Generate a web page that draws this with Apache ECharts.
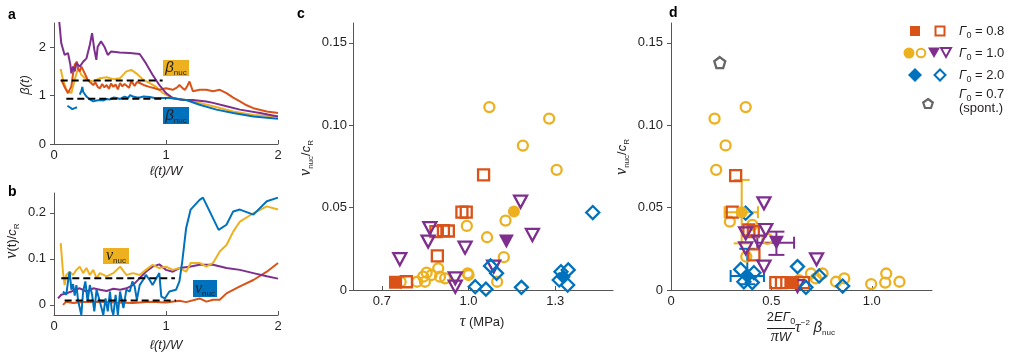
<!DOCTYPE html>
<html><head><meta charset="utf-8">
<script src="https://cdn.jsdelivr.net/npm/echarts@6/dist/echarts.min.js"></script>
<style>html,body{margin:0;padding:0;background:#fff}#c{width:1036px;height:361px}</style>
</head><body><div id="c"></div><script>
// ---------- DATA ----------
// panel a: beta(t) vs l(t)/W
const aYellow = [[0.06,1.55],[0.08,1.33],[0.11,1.12],[0.155,1.05],[0.185,1.33],[0.215,1.57],[0.244,1.43],[0.29,1.33],[0.35,1.29],[0.41,1.36],[0.47,1.38],[0.53,1.34],[0.59,1.36],[0.646,1.5],[0.69,1.53],[0.735,1.46],[0.795,1.33],[0.854,1.26],[0.914,1.18],[0.973,1.05],[1.06,0.95],[1.18,0.91],[1.3,0.85],[1.42,0.78],[1.6,0.67],[1.78,0.6],[2.0,0.57]];
const aOrange = [[0.065,1.33],[0.09,1.2],[0.125,1.05],[0.155,1.19],[0.17,1.45],[0.185,1.64],[0.205,1.70],[0.215,1.55],[0.23,1.5],[0.245,1.6],[0.26,1.57],[0.28,1.43],[0.3,1.33],[0.32,1.28],[0.35,1.22],[0.37,1.27],[0.39,1.18],[0.41,1.15],[0.43,1.24],[0.45,1.17],[0.47,1.22],[0.49,1.14],[0.51,1.25],[0.53,1.18],[0.55,1.23],[0.57,1.13],[0.59,1.26],[0.61,1.19],[0.63,1.24],[0.646,1.22],[0.67,1.16],[0.69,1.30],[0.705,1.29],[0.72,1.2],[0.74,1.28],[0.765,1.26],[0.8,1.22],[0.85,1.18],[0.9,1.15],[0.94,1.12],[1.0,1.15],[1.06,1.12],[1.1,1.17],[1.12,1.22],[1.15,1.15],[1.17,1.12],[1.19,1.2],[1.21,1.29],[1.24,1.09],[1.3,1.12],[1.36,1.12],[1.42,1.09],[1.48,1.12],[1.54,1.05],[1.6,0.96],[1.66,0.88],[1.72,0.8],[1.78,0.74],[1.9,0.67],[2.0,0.64]];
const aPurple = [[0.04,2.7],[0.065,2.08],[0.095,1.84],[0.125,1.88],[0.146,1.64],[0.155,1.46],[0.17,1.6],[0.185,1.5],[0.2,1.67],[0.23,1.6],[0.26,1.7],[0.29,1.77],[0.32,2.05],[0.34,2.29],[0.36,1.95],[0.378,1.74],[0.39,2.01],[0.42,2.12],[0.45,2.01],[0.48,1.84],[0.51,1.91],[0.586,1.89],[0.676,1.88],[0.765,1.86],[0.82,1.67],[0.88,1.43],[0.94,1.22],[1.0,1.05],[1.06,0.95],[1.15,0.91],[1.24,0.91],[1.36,0.88],[1.42,0.85],[1.54,0.78],[1.66,0.71],[1.84,0.64],[2.0,0.57]];
const aBlue = [[0.12,0.79],[0.14,0.76],[0.164,0.72],[0.185,0.74],[0.205,0.76],[0.22,'-'],[0.23,1.02],[0.245,1.1],[0.253,1.18],[0.26,1.08],[0.274,1.05],[0.29,0.98],[0.3,0.95],[0.32,0.92],[0.35,0.88],[0.38,0.9],[0.41,0.91],[0.44,0.9],[0.47,0.93],[0.5,0.92],[0.53,0.96],[0.56,0.95],[0.59,0.93],[0.63,0.98],[0.66,0.95],[0.68,1.01],[0.705,0.98],[0.74,0.96],[0.765,0.96],[0.8,0.98],[0.854,0.97],[0.9,0.95],[0.943,0.95],[1.03,0.95],[1.1,0.93],[1.18,0.91],[1.3,0.81],[1.45,0.71],[1.6,0.64],[1.78,0.57],[2.0,0.52]];
const aDashHigh = [[0.06,1.31],[0.97,1.31]];
const aDashLow = [[0.11,0.935],[1.0,0.935]];
// panel b: v(t)/cR vs l(t)/W
const bYellow = [[0.06,0.134],[0.08,0.072],[0.095,0.043],[0.11,0.065],[0.14,0.072],[0.17,0.065],[0.2,0.076],[0.23,0.083],[0.26,0.069],[0.29,0.08],[0.32,0.065],[0.35,0.076],[0.38,0.058],[0.41,0.069],[0.47,0.062],[0.53,0.069],[0.59,0.083],[0.646,0.065],[0.705,0.069],[0.765,0.065],[0.82,0.076],[0.88,0.087],[0.94,0.08],[1.0,0.083],[1.06,0.076],[1.12,0.08],[1.18,0.072],[1.22,0.091],[1.3,0.091],[1.36,0.083],[1.42,0.091],[1.48,0.116],[1.54,0.13],[1.6,0.159],[1.66,0.181],[1.78,0.199],[1.9,0.214],[2.0,0.207]];
const bOrange = [[0.08,0.0],[0.11,0.007],[0.17,0.004],[0.26,0.006],[0.41,0.007],[0.56,0.005],[0.705,0.004],[0.854,0.007],[1.0,0.005],[1.12,0.009],[1.18,0.006],[1.3,0.014],[1.36,0.007],[1.42,0.011],[1.48,0.011],[1.54,0.025],[1.66,0.04],[1.78,0.054],[1.9,0.072],[2.0,0.091]];
const bPurple = [[0.036,0.014],[0.065,0.022],[0.11,0.025],[0.155,0.029],[0.185,0.033],[0.23,0.036],[0.29,0.029],[0.35,0.036],[0.41,0.033],[0.47,0.03],[0.53,0.035],[0.59,0.033],[0.646,0.036],[0.705,0.043],[0.765,0.058],[0.82,0.072],[0.88,0.083],[0.94,0.088],[1.0,0.076],[1.06,0.072],[1.12,0.08],[1.21,0.083],[1.3,0.087],[1.42,0.087],[1.54,0.08],[1.66,0.076],[1.78,0.069],[1.9,0.062],[2.0,0.057]];
const bBlue = [[0.08,0.029],[0.11,0.022],[0.13,0.06],[0.14,0.072],[0.155,0.033],[0.17,0.045],[0.185,0.02],[0.2,0.043],[0.215,0.01],[0.23,-0.007],[0.244,-0.022],[0.26,0.029],[0.28,0.051],[0.3,0.007],[0.32,0.043],[0.34,0.022],[0.36,-0.014],[0.38,0.033],[0.41,0.007],[0.44,-0.022],[0.46,0.014],[0.48,-0.014],[0.5,0.029],[0.515,-0.01],[0.53,-0.022],[0.55,0.022],[0.57,-0.022],[0.59,0.029],[0.62,-0.007],[0.646,0.033],[0.676,0.029],[0.7,0.051],[0.72,0.04],[0.74,0.011],[0.765,0.043],[0.795,0.054],[0.82,0.065],[0.854,0.054],[0.88,0.043],[0.914,0.058],[0.94,0.069],[0.958,0.018],[0.99,0.014],[1.03,0.029],[1.09,0.033],[1.12,0.051],[1.145,0.094],[1.18,0.167],[1.22,0.207],[1.3,0.228],[1.33,0.233],[1.39,0.203],[1.47,0.163],[1.54,0.174],[1.6,0.203],[1.66,0.207],[1.78,0.196],[1.9,0.225],[2.0,0.233]];
const bDashHigh = [[0.065,0.058],[1.08,0.058]];
const bDashLow = [[0.095,0.0094],[1.09,0.0094]];
// panel c: vnuc/cR vs tau (MPa)
const cOrangeFilled = [[0.747,0.0047]];
const cOrangeOpen = [[0.785,0.005],[1.052,0.0698],[0.977,0.0472],[0.992,0.0472],[0.887,0.0354],[0.913,0.036],[0.93,0.0358],[0.892,0.0207]];
const cYellowFilled = [[1.157,0.0476]];
const cYellowOpen = [[1.072,0.111],[1.279,0.104],[1.188,0.0876],[1.305,0.0729],[1.128,0.0421],[0.994,0.0389],[1.064,0.032],[1.122,0.0199],[1.0,0.0091],[0.997,0.0101],[1.099,0.005],[0.765,0.005],[0.822,0.005],[0.843,0.0081],[0.849,0.005],[0.855,0.0105],[0.872,0.0091],[0.895,0.0132],[0.901,0.0081],[0.919,0.0071]];
const cPurpleFilled = [[1.131,0.0294]];
const cPurpleOpen = [[0.762,0.0187],[0.86,0.0294],[0.866,0.0375],[0.954,0.0071],[0.954,0.002],[0.988,0.0257],[1.18,0.0536],[1.221,0.0334],[1.087,0.0142]];
const cBlueFilled = [[1.328,0.0081]];
const cBlueOpen = [[1.43,0.047],[1.076,0.0146],[1.097,0.0101],[1.023,0.002],[1.06,0.0005],[1.183,0.0016],[1.32,0.0111],[1.345,0.0122],[1.314,0.0061],[1.343,0.003]];
// panel d: vnuc/cR vs 2EΓ0/(πW) τ^-2 βnuc
const dGraySpont = [[0.243,0.138]];
const dOrangeFilled = [[0.597,0.0045]];
const dOrangeOpen = [[0.322,0.0694],[0.305,0.0472],[0.388,0.0364],[0.41,0.0354],[0.413,0.0213],[0.522,0.0045],[0.55,0.0045],[0.66,0.0045]];
const dYellowFilled = [[0.352,0.0472]];
const dYellowOpen = [[0.372,0.111],[0.217,0.104],[0.272,0.0877],[0.225,0.0729],[0.293,0.0415],[0.405,0.0395],[0.48,0.031],[0.375,0.0202],[0.638,0.006],[0.697,0.01],[0.722,0.007],[0.755,0.01],[0.822,0.005],[0.863,0.007],[0.997,0.0036],[1.072,0.01],[1.067,0.0045],[1.138,0.005]];
const dPurpleFilled = [[0.525,0.0287]];
const dPurpleOpen = [[0.463,0.0526],[0.372,0.0344],[0.472,0.0364],[0.438,0.0293],[0.372,0.0253],[0.463,0.0142],[0.725,0.0186],[0.63,0.0024]];
const dBlueFilled = [[0.38,0.0085]];
const dBlueOpen = [[0.372,0.0466],[0.63,0.0142],[0.738,0.0085],[0.855,0.0024],[0.347,0.0125],[0.413,0.0105],[0.363,0.005],[0.405,0.0045],[0.672,0.0016]];
// error bars: [x, y, xlow, xhigh, ylow, yhigh]
const dErrYellow = [[0.352,0.0472,0.267,0.433,0.0283,0.0668]];
const dErrPurple = [[0.525,0.0287,0.43,0.613,0.0213,0.0354]];
const dErrBlue = [[0.38,0.0085,0.297,0.463,0.0035,0.025]];
// ticks
const aXTicks = [0,1,2], aXLabels = ['0','1','2'];
const aYTicks = [0,1,2], aYLabels = ['0','1','2'];
const bXTicks = [0,1,2], bXLabels = ['0','1','2'];
const bYTicks = [0,0.1,0.2], bYLabels = ['0','0.1','0.2'];
const cXTicks = [0.7,1.0,1.3], cXLabels = ['0.7','1.0','1.3'];
const cYTicks = [0,0.05,0.10,0.15], cYLabels = ['0','0.05','0.10','0.15'];
const dXTicks = [0,0.5,1.0], dXLabels = ['0','0.5','1.0'];
const dYTicks = [0,0.05,0.10,0.15], dYLabels = ['0','0.05','0.10','0.15'];

// ---------- STYLE ----------
const F = 'Liberation Sans, Arial, sans-serif';
const SERIF = 'Liberation Serif, Times New Roman, serif';
const AX = '#555';
const TXT = '#231F20';
const COL = {orange:'#D95319', yellow:'#EDB120', purple:'#7E2F8E', blue:'#0072BD', gray:'#666666'};

function fmtFor(ticks, labels){
  return function(v){ for (let i=0;i<ticks.length;i++){ if (Math.abs(ticks[i]-v)<1e-9) return labels[i]; } return ''; };
}
function xAx(gi, min, max, ticks, labels){
  return {type:'value', gridIndex:gi, min:min, max:max,
    axisLine:{show:true, onZero:false, lineStyle:{color:AX, width:1}},
    axisTick:{show:true, inside:true, length:4, customValues:ticks, lineStyle:{color:AX}},
    axisLabel:{customValues:ticks, formatter:fmtFor(ticks,labels), margin:5, color:TXT, fontSize:13, fontFamily:F},
    splitLine:{show:false}};
}
function yAx(gi, min, max, ticks, labels, margin){
  return {type:'value', gridIndex:gi, min:min, max:max,
    axisLine:{show:true, onZero:false, lineStyle:{color:AX, width:1}},
    axisTick:{show:true, inside:false, length:4, customValues:ticks, lineStyle:{color:AX}},
    axisLabel:{customValues:ticks, formatter:fmtFor(ticks,labels), margin:margin, color:TXT, fontSize:13, fontFamily:F},
    splitLine:{show:false}};
}
function ln(gi, data, color, z){
  return {type:'line', xAxisIndex:gi, yAxisIndex:gi, data:data, showSymbol:false, symbol:'none',
    connectNulls:false, lineStyle:{color:color, width:2}, z:z||2, silent:true, clip:true};
}
function dash(gi, data){
  return {type:'line', xAxisIndex:gi, yAxisIndex:gi, data:data, showSymbol:false, symbol:'none',
    lineStyle:{color:'#000', width:2, type:[7,4]}, z:5, silent:true};
}
const SHAPES = {
  square:{symbol:'rect', size:11},
  circle:{symbol:'circle', size:10},
  tri:{symbol:'triangle', size:[13,12], rot:180},
  diamond:{symbol:'diamond', size:13},
  pent:{symbol:'path://M0,-1 L0.951,-0.309 L0.588,0.809 L-0.588,0.809 L-0.951,-0.309 Z', size:11}
};
function sc(gi, data, shape, color, filled, z){
  const s = SHAPES[shape];
  return {type:'scatter', xAxisIndex:gi, yAxisIndex:gi, data:data, symbol:s.symbol,
    symbolSize: filled ? (Array.isArray(s.size)? [s.size[0]+2, s.size[1]+2] : s.size+2) : s.size,
    symbolRotate:s.rot||0, silent:true, z:z|| (filled?4:3),
    itemStyle: filled ? {color:color, borderWidth:0, opacity:1}
                      : {color:'rgba(255,255,255,0)', borderColor:color, borderWidth:2.3, opacity:1}};
}
function err(gi, data, color){
  return {type:'custom', xAxisIndex:gi, yAxisIndex:gi, data:data, silent:true, z:3,
    encode:{x:[0,2,3], y:[1,4,5]},
    renderItem:function(params, api){
      const x=api.value(0), y=api.value(1);
      const l=api.coord([api.value(2),y]), r=api.coord([api.value(3),y]);
      const b=api.coord([x,api.value(4)]), t=api.coord([x,api.value(5)]);
      const st={stroke:color, lineWidth:2};
      const ch=6, cw=8;
      return {type:'group', children:[
        {type:'line', shape:{x1:l[0],y1:l[1],x2:r[0],y2:r[1]}, style:st},
        {type:'line', shape:{x1:l[0],y1:l[1]-ch,x2:l[0],y2:l[1]+ch}, style:st},
        {type:'line', shape:{x1:r[0],y1:r[1]-ch,x2:r[0],y2:r[1]+ch}, style:st},
        {type:'line', shape:{x1:b[0],y1:b[1],x2:t[0],y2:t[1]}, style:st},
        {type:'line', shape:{x1:b[0]-cw,y1:b[1],x2:b[0]+cw,y2:b[1]}, style:st},
        {type:'line', shape:{x1:t[0]-cw,y1:t[1],x2:t[0]+cw,y2:t[1]}, style:st}
      ]};
    }};
}

// rich text styles
const RICH = {
  n:{fontFamily:F, fontSize:13, lineHeight:18, fill:TXT},
  i:{fontFamily:F, fontSize:13, fontStyle:'italic', lineHeight:18, fill:TXT},
  v:{fontFamily:SERIF, fontSize:16, fontStyle:'italic', lineHeight:18, fill:TXT},
  b:{fontFamily:F, fontSize:15, fontStyle:'italic', lineHeight:18, fill:TXT},
  s:{fontFamily:F, fontSize:8, lineHeight:8, verticalAlign:'bottom', fill:TXT},
  s0:{fontFamily:F, fontSize:9, lineHeight:8, verticalAlign:'bottom', fill:TXT},
  sup:{fontFamily:F, fontSize:8, lineHeight:9, verticalAlign:'top', fill:TXT}
};
function T(x, y, text, opts){
  opts = opts || {};
  return {type:'text', x:x, y:y, rotation:opts.rot||0, silent:true,
    style:{text:text, rich:RICH, fill:TXT, font: opts.font || ('13px ' + F),
      align:opts.align||'center', verticalAlign:'middle'}};
}
function box(x, y, w, h, color, text){
  return [
    {type:'rect', shape:{x:x, y:y, width:w, height:h}, style:{fill:color}, silent:true},
    T(x+w/2, y+h/2, text)
  ];
}

const graphic = [
  // panel letters
  {type:'text', x:8, y:15, style:{text:'a', font:'bold 14px '+F, fill:'#000', verticalAlign:'middle'}},
  {type:'text', x:8, y:192, style:{text:'b', font:'bold 14px '+F, fill:'#000', verticalAlign:'middle'}},
  {type:'text', x:297, y:14, style:{text:'c', font:'bold 14px '+F, fill:'#000', verticalAlign:'middle'}},
  {type:'text', x:669, y:13, style:{text:'d', font:'bold 14px '+F, fill:'#000', verticalAlign:'middle'}},
  // axis titles
  T(25, 85, '{i|β(t)}', {rot:Math.PI/2}),
  T(12, 241, '{v|v}{n|(t)/}{i|c}{s|R}', {rot:Math.PI/2}),
  T(306, 158, '{v|v}{s|nuc}{n|/}{i|c}{s|R}', {rot:Math.PI/2}),
  T(622, 157, '{v|v}{s|nuc}{n|/}{i|c}{s|R}', {rot:Math.PI/2}),
  T(166, 171, '{i|ℓ(t)/W}'),
  T(166, 345, '{i|ℓ(t)/W}'),
  T(482, 322, '{v|τ}{n| (MPa)}'),
  // fraction for panel d
  T(781, 317, '{n|2}{i|EΓ}{s0|0}'),
  {type:'line', shape:{x1:767, y1:328.5, x2:795, y2:328.5}, style:{stroke:TXT, lineWidth:1}, silent:true},
  T(781, 337, '{v|π}{i|W}'),
  T(795, 328, '{v|τ}{sup|−2}{n| }{b|β}{s|nuc}', {align:'left'}),
  // legend
  {type:'rect', shape:{x:910, y:26, width:10, height:10}, style:{fill:COL.orange}, silent:true},
  {type:'rect', shape:{x:935.5, y:26.5, width:9, height:9}, style:{fill:'none', stroke:COL.orange, lineWidth:2}, silent:true},
  T(959, 31, '{i|Γ}{s0|0}{n| = 0.8}', {align:'left'}),
  {type:'circle', shape:{cx:909, cy:53, r:5.5}, style:{fill:COL.yellow}, silent:true},
  {type:'circle', shape:{cx:921, cy:53, r:4.3}, style:{fill:'none', stroke:COL.yellow, lineWidth:2}, silent:true},
  {type:'polygon', shape:{points:[[928,47.5],[940,47.5],[934,58]]}, style:{fill:COL.purple}, silent:true},
  {type:'polygon', shape:{points:[[941,48],[951,48],[946,57]]}, style:{fill:'none', stroke:COL.purple, lineWidth:2}, silent:true},
  T(959, 53, '{i|Γ}{s0|0}{n| = 1.0}', {align:'left'}),
  {type:'polygon', shape:{points:[[915,68],[922,75],[915,82],[908,75]]}, style:{fill:COL.blue}, silent:true},
  {type:'polygon', shape:{points:[[940,69.5],[945.5,75],[940,80.5],[934.5,75]]}, style:{fill:'none', stroke:COL.blue, lineWidth:2}, silent:true},
  T(959, 75, '{i|Γ}{s0|0}{n| = 2.0}', {align:'left'}),
  {type:'polygon', shape:{points:[[928,99],[932.8,102.5],[931,108],[925,108],[923.2,102.5]]}, style:{fill:'none', stroke:COL.gray, lineWidth:2.2}, silent:true},
  T(959, 94, '{i|Γ}{s0|0}{n| = 0.7}', {align:'left'}),
  T(959, 108, '{n|(spont.)}', {align:'left'})
].concat(
  box(163, 60, 26, 16, COL.yellow, '{b|β}{s|nuc}'),
  box(163, 107, 26, 17, COL.blue, '{b|β}{s|nuc}'),
  box(103, 248, 26, 16, COL.yellow, '{v|v}{s|nuc}'),
  box(193, 280, 24, 17, COL.blue, '{v|v}{s|nuc}')
);

const option = {
  animation:false,
  backgroundColor:'#fff',
  grid:[
    {left:54, top:23, width:224, height:121},
    {left:54, top:193, width:224, height:122},
    {left:353, top:23, width:260, height:267},
    {left:671, top:23, width:261, height:267}
  ],
  xAxis:[
    xAx(0, 0, 2, aXTicks, aXLabels),
    xAx(1, 0, 2, bXTicks, bXLabels),
    xAx(2, 0.6, 1.5, cXTicks, cXLabels),
    xAx(3, 0, 1.3, dXTicks, dXLabels)
  ],
  yAxis:[
    yAx(0, 0, 2.5, aYTicks, aYLabels, 8),
    yAx(1, -0.022, 0.243, bYTicks, bYLabels, 8),
    yAx(2, 0, 0.162, cYTicks, cYLabels, 6),
    yAx(3, 0, 0.162, dYTicks, dYLabels, 8)
  ],
  graphic: graphic,
  series:[
    ln(0, aYellow, COL.yellow, 2), ln(0, aOrange, COL.orange, 2), ln(0, aPurple, COL.purple, 3), ln(0, aBlue, COL.blue, 3),
    dash(0, aDashHigh), dash(0, aDashLow),
    ln(1, bOrange, COL.orange, 2), ln(1, bPurple, COL.purple, 2), ln(1, bYellow, COL.yellow, 2), ln(1, bBlue, COL.blue, 3),
    dash(1, bDashHigh), dash(1, bDashLow),
    sc(2, cYellowOpen, 'circle', COL.yellow, false), sc(2, cOrangeOpen, 'square', COL.orange, false),
    sc(2, cPurpleOpen, 'tri', COL.purple, false), sc(2, cBlueOpen, 'diamond', COL.blue, false),
    sc(2, cOrangeFilled, 'square', COL.orange, true), sc(2, cYellowFilled, 'circle', COL.yellow, true),
    sc(2, cPurpleFilled, 'tri', COL.purple, true), sc(2, cBlueFilled, 'diamond', COL.blue, true),
    err(3, dErrYellow, COL.yellow), err(3, dErrPurple, COL.purple), err(3, dErrBlue, COL.blue),
    sc(3, dYellowOpen, 'circle', COL.yellow, false), sc(3, dOrangeOpen, 'square', COL.orange, false),
    sc(3, dPurpleOpen, 'tri', COL.purple, false), sc(3, dBlueOpen, 'diamond', COL.blue, false),
    sc(3, dGraySpont, 'pent', COL.gray, false),
    sc(3, dOrangeFilled, 'square', COL.orange, true), sc(3, dYellowFilled, 'circle', COL.yellow, true),
    sc(3, dPurpleFilled, 'tri', COL.purple, true), sc(3, dBlueFilled, 'diamond', COL.blue, true)
  ]
};
const chart = echarts.init(document.getElementById('c'), null, {renderer:'canvas'});
chart.setOption(option);
</script></body></html>
